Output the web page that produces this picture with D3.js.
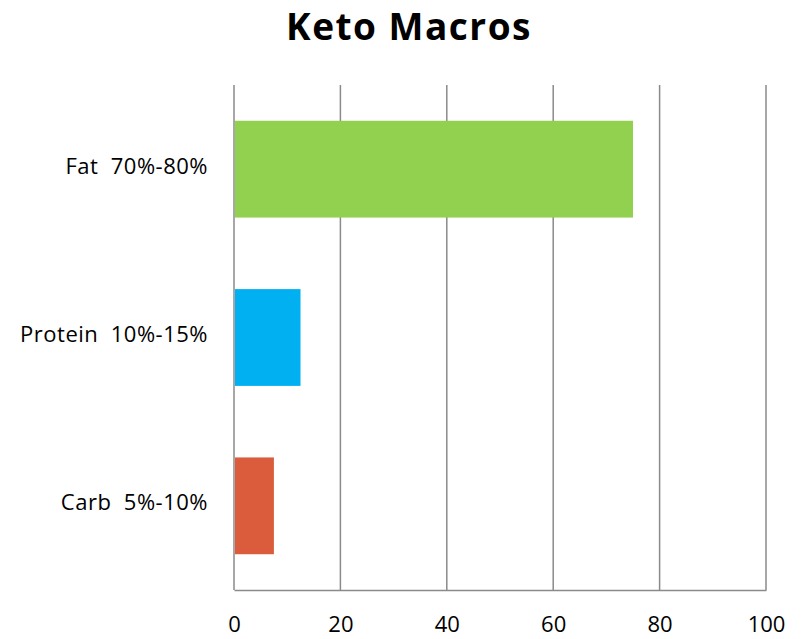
<!DOCTYPE html>
<html>
<head>
<meta charset="utf-8">
<script src="https://cdn.jsdelivr.net/npm/d3@7"></script>
<style>
  html, body { margin: 0; padding: 0; background: #fff; }
  svg { display: block; font-family: "Open Sans", Lato, "Liberation Sans", sans-serif; }
</style>
</head>
<body>
<svg id="chart" width="804" height="639"></svg>
<script>
// Macro categories, bar values (percent of daily calories) and axis ticks
const categories = ["Fat  70%-80%", "Protein  10%-15%", "Carb  5%-10%"];
const values = [75, 12.5, 7.5];
const colors = ["#92D050", "#00B0F0", "#DA5C3C"];
const xTicks = [0, 20, 40, 60, 80, 100];
const title = "Keto Macros";

const svg = d3.select("#chart");
const margin = { left: 234, right: 38, top: 85, bottom: 49 };
const W = 804, H = 639;
const labelFont = "'Open Sans', Lato, sans-serif";

const x = d3.scaleLinear().domain([0, 100]).range([margin.left, W - margin.right]);
const y = d3.scaleBand().domain(categories)
  .range([margin.top, H - margin.bottom])
  .paddingInner(0.425).paddingOuter(0.2125);

const gridColor = "#8a8a8a";

// vertical gridlines
svg.append("g")
  .selectAll("line")
  .data(xTicks)
  .join("line")
  .attr("x1", d => x(d)).attr("x2", d => x(d))
  .attr("y1", margin.top).attr("y2", H - margin.bottom)
  .attr("stroke", gridColor).attr("stroke-width", 1.5);

// bars
svg.append("g")
  .selectAll("rect")
  .data(categories)
  .join("rect")
  .attr("x", x(0) + 1)
  .attr("y", d => y(d))
  .attr("width", (d, i) => x(values[i]) - x(0) - 1)
  .attr("height", y.bandwidth())
  .attr("fill", (d, i) => colors[i]);

// bottom axis
const xAxis = svg.append("g")
  .attr("transform", `translate(0,${H - margin.bottom})`)
  .call(d3.axisBottom(x).tickValues(xTicks).tickSize(0).tickPadding(26));
xAxis.select(".domain").attr("stroke", gridColor).attr("stroke-width", 1.5);
xAxis.selectAll("text")
  .attr("font-family", labelFont)
  .attr("font-size", 22).attr("fill", "#000");

// left axis labels
const yAxis = svg.append("g")
  .attr("transform", `translate(${margin.left},0)`)
  .call(d3.axisLeft(y).tickSize(0).tickPadding(26));
yAxis.select(".domain").remove();
yAxis.selectAll("text")
  .attr("font-family", labelFont)
  .attr("font-size", 22).attr("fill", "#000")
  .attr("letter-spacing", 0.5)
  .attr("dy", "0.2em")
  .style("white-space", "pre");

// title
svg.append("text")
  .attr("x", 409).attr("y", 40)
  .attr("text-anchor", "middle")
  .attr("font-family", labelFont)
  .attr("font-size", 37).attr("font-weight", "bold")
  .attr("letter-spacing", 1.5)
  .attr("fill", "#000")
  .text(title);
</script>
</body>
</html>
